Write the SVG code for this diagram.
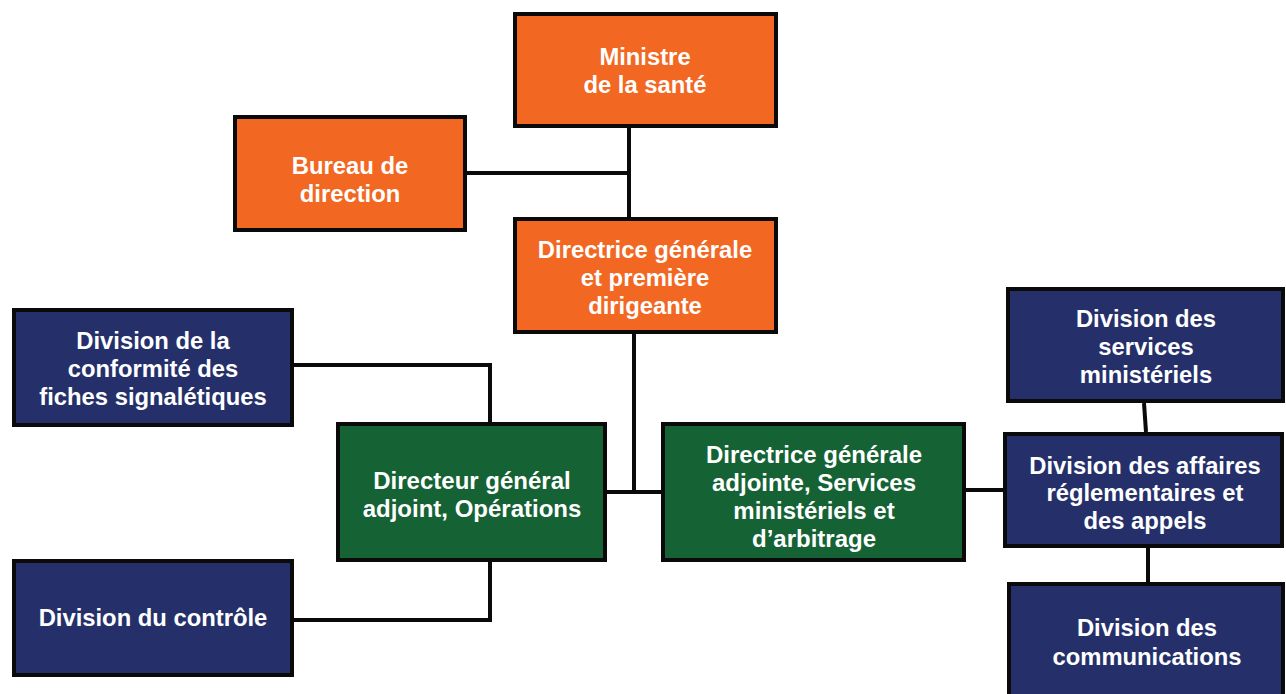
<svg xmlns="http://www.w3.org/2000/svg" width="1286" height="694" viewBox="0 0 1286 694">
<style>
.box{stroke:#0a0a0a;stroke-width:4}
.o{fill:#F26722}
.b{fill:#25306A}
.g{fill:#156235}
.t{font-family:"Liberation Sans",Arial,sans-serif;font-weight:bold;font-size:23.8px;fill:#fff;text-anchor:middle}
.n{font-family:"Liberation Sans",Arial,sans-serif;font-weight:bold;font-size:24px;fill:#fff;text-anchor:middle}
.c{fill:none;stroke:#0a0a0a;stroke-width:4}
</style>
<rect width="1286" height="694" fill="#fff"/>
<g id="connectors">
<path class="c" d="M629 128V217"/>
<path class="c" d="M467 173H629"/>
<path class="c" d="M634 334V492M607 492H661"/>
<path class="c" d="M294 365H490V422"/>
<path class="c" d="M294 620H490V562"/>
<path class="c" d="M966 490H1003"/>
<path class="c" d="M1144 403L1146 432"/>
<path class="c" d="M1148 548V582"/>
</g>
<g id="ministre">
<rect class="box o" x="515" y="14" width="261" height="112"/>
<text class="t" x="645" y="65">Ministre</text>
<text class="t" x="645" y="93">de la santé</text>
</g>
<g id="bureau">
<rect class="box o" x="235" y="117" width="230" height="113"/>
<text class="t" x="350" y="174">Bureau de</text>
<text class="t" x="350" y="202">direction</text>
</g>
<g id="dg">
<rect class="box o" x="515" y="219" width="261" height="113"/>
<text class="t" x="645" y="258">Directrice générale</text>
<text class="t" x="645" y="286">et première</text>
<text class="t" x="645" y="314">dirigeante</text>
</g>
<g id="conformite">
<rect class="box b" x="14" y="310" width="278" height="115"/>
<text class="t" x="153" y="349">Division de la</text>
<text class="t" x="153" y="377">conformité des</text>
<text class="t" x="153" y="405">fiches signalétiques</text>
</g>
<g id="controle">
<rect class="box b" x="14" y="561" width="278" height="114"/>
<text class="t" x="153" y="626">Division du contrôle</text>
</g>
<g id="dga-operations">
<rect class="box g" x="338" y="424" width="267" height="136"/>
<text class="n" x="472" y="489">Directeur général</text>
<text class="n" x="472" y="517">adjoint, Opérations</text>
</g>
<g id="dga-services">
<rect class="box g" x="663" y="424" width="301" height="136"/>
<text class="n" x="814" y="463">Directrice générale</text>
<text class="n" x="814" y="491">adjointe, Services</text>
<text class="n" x="814" y="519">ministériels et</text>
<text class="n" x="814" y="547">d’arbitrage</text>
</g>
<g id="services">
<rect class="box b" x="1008" y="289" width="275" height="112"/>
<text class="t" x="1146" y="327">Division des</text>
<text class="t" x="1146" y="355">services</text>
<text class="t" x="1146" y="383">ministériels</text>
</g>
<g id="affaires">
<rect class="box b" x="1005" y="434" width="277" height="112"/>
<text class="t" x="1145" y="474">Division des affaires</text>
<text class="t" x="1145" y="501">réglementaires et</text>
<text class="t" x="1145" y="529">des appels</text>
</g>
<g id="communications">
<rect class="box b" x="1009" y="584" width="274" height="120"/>
<text class="t" x="1147" y="636">Division des</text>
<text class="t" x="1147" y="665">communications</text>
</g>
</svg>
